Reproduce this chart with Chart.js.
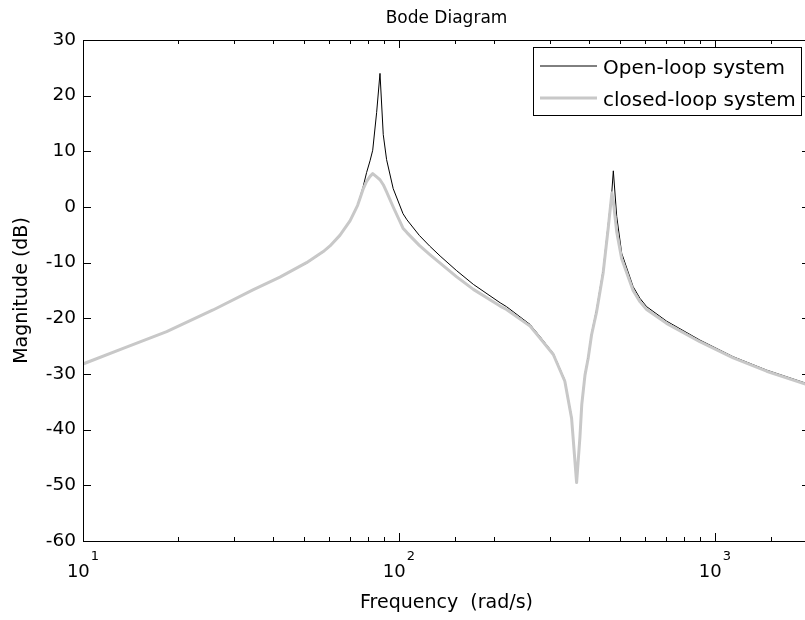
<!DOCTYPE html>
<html>
<head>
<meta charset="utf-8">
<script src="https://cdn.jsdelivr.net/npm/chart.js@4.4.0/dist/chart.umd.min.js"></script>
<style>
  html, body { margin: 0; padding: 0; background: #fff; overflow: hidden; }
  #wrap { width: 812px; height: 620px; }
</style>
</head>
<body>
<div id="wrap"><canvas id="bode"></canvas></div>
<script>
// frequency points (rad/s) and magnitudes (dB)
const freq = [10, 13.4, 18.4, 25.8, 34.5, 42, 51, 57.6, 60.5, 65,
  70, 74, 77, 79, 81, 82.6, 85, 87.1, 89.2, 91.4,
  95.9, 103, 106, 116, 125, 135, 152, 172, 209, 219,
  260, 279, 308, 335, 352, 365, 374, 379, 388, 397,
  407, 422, 443, 460, 472, 477, 489, 507, 551, 579,
  608, 703, 896, 1143, 1458, 2000];

const openLoop = [-28.2, -25.4, -22.4, -18.5, -14.9, -12.6, -10.1, -8.1, -7.1, -5.2,
  -2.5, 0.4, 3.6, 6.2, 8.3, 10.2, 17.0, 24.0, 13.0, 8.5,
  3.3, -1.2, -2.3, -5.1, -7.0, -8.8, -11.4, -13.9, -17.2, -17.9,
  -21.1, -23.2, -26.3, -31.1, -37.7, -49.3, -41.0, -35.2, -29.9, -26.9,
  -22.7, -18.5, -11.3, -2.9, 2.8, 6.5, -1.7, -8.3, -14.3, -16.4,
  -17.9, -20.5, -23.9, -26.9, -29.3, -31.9];

const closedLoop = [-28.2, -25.4, -22.4, -18.5, -14.9, -12.6, -10.0, -8.0, -7.0, -5.1,
  -2.5, 0.3, 3.2, 4.6, 5.5, 6.0, 5.4, 4.9, 4.0, 2.7,
  0.0, -3.8, -4.6, -6.9, -8.5, -10.1, -12.5, -14.8, -17.8, -18.4,
  -21.4, -23.5, -26.5, -31.3, -38.0, -49.5, -41.3, -35.5, -30.2, -27.2,
  -23.0, -18.9, -11.8, -3.6, 2.5, 1.0, -4.5, -9.3, -15.0, -17.0,
  -18.4, -20.9, -24.2, -27.1, -29.5, -32.1];

const seriesNames = ["Open-loop system", "closed-loop system"];
const xDecades = [10, 100, 1000];
const xExponents = ["1", "2", "3"];

const FONT = '"DejaVu Sans", sans-serif';

// matlab style box, inward ticks, 10^n labels and legend
const matlabAxes = {
  id: "matlabAxes",
  afterDatasetsDraw(chart) {
    const { ctx, chartArea: a, scales } = chart;
    const x = scales.x, y = scales.y;
    ctx.save();
    ctx.strokeStyle = "#000";
    ctx.lineWidth = 1;
    ctx.beginPath();
    y.ticks.forEach((t) => {
      const py = Math.round(y.getPixelForValue(t.value)) + 0.5;
      ctx.moveTo(a.left, py); ctx.lineTo(a.left + 8, py);
      ctx.moveTo(a.right, py); ctx.lineTo(a.right - 8, py);
    });
    x.ticks.forEach((t) => {
      const len = xDecades.includes(t.value) ? 8 : 4;
      const px = Math.round(x.getPixelForValue(t.value)) + 0.5;
      ctx.moveTo(px, a.bottom); ctx.lineTo(px, a.bottom - len);
      ctx.moveTo(px, a.top); ctx.lineTo(px, a.top + len);
    });
    ctx.stroke();
    ctx.strokeRect(Math.round(a.left) + 0.5, Math.round(a.top) + 0.5,
      Math.round(a.right - a.left), Math.round(a.bottom - a.top));

    // x tick labels with superscript
    ctx.fillStyle = "#000";
    ctx.textBaseline = "alphabetic";
    ctx.textAlign = "left";
    xDecades.forEach((v, i) => {
      const px = x.getPixelForValue(v);
      ctx.font = "18px " + FONT;
      const wb = ctx.measureText("10").width;
      ctx.font = "13px " + FONT;
      const ws = ctx.measureText(xExponents[i]).width;
      const left = px - (wb + 1 + ws) / 2;
      ctx.font = "18px " + FONT;
      ctx.fillText("10", left, a.bottom + 36);
      ctx.font = "13px " + FONT;
      ctx.fillText(xExponents[i], left + wb + 1, a.bottom + 19);
    });

    // legend box
    const lr = a.right - 9, lt = a.top + 7, lw = 268, lh = 68;
    const ll = lr - lw;
    ctx.fillStyle = "#fff";
    ctx.fillRect(ll, lt, lw, lh);
    ctx.strokeStyle = "#000";
    ctx.strokeRect(Math.round(ll) + 0.5, Math.round(lt) + 0.5, lw, lh);
    ctx.font = "20px " + FONT;
    chart.data.datasets.forEach((ds, i) => {
      const ry = lt + 19 + i * 32;
      ctx.strokeStyle = ds.borderColor;
      ctx.lineWidth = ds.borderWidth;
      ctx.beginPath();
      ctx.moveTo(ll + 7, ry); ctx.lineTo(ll + 64, ry);
      ctx.stroke();
      ctx.fillStyle = "#000";
      ctx.fillText(seriesNames[i], ll + 70, ry + 8);
    });
    ctx.restore();
  }
};

new Chart(document.getElementById("bode"), {
  type: "line",
  data: {
    datasets: [
      {
        label: seriesNames[0],
        data: freq.map((f, i) => ({ x: f, y: openLoop[i] })),
        borderColor: "#000000",
        borderWidth: 1,
        order: 1
      },
      {
        label: seriesNames[1],
        data: freq.map((f, i) => ({ x: f, y: closedLoop[i] })),
        borderColor: "#c8c8c8",
        borderWidth: 3,
        order: 0
      }
    ]
  },
  options: {
    responsive: true,
    maintainAspectRatio: false,
    animation: false,
    layout: { padding: { left: 0, right: 2, top: 0, bottom: 0 } },
    elements: {
      point: { radius: 0 },
      line: { tension: 0, borderJoinStyle: "round" }
    },
    plugins: {
      legend: { display: false },
      tooltip: { enabled: false },
      title: {
        display: true,
        text: "Bode Diagram",
        fullSize: false,
        color: "#000",
        font: { family: FONT, size: 17, weight: "normal" },
        padding: { top: 8, bottom: 11.6 }
      }
    },
    scales: {
      x: {
        type: "logarithmic",
        min: 10,
        max: 2000,
        grid: { display: false, drawTicks: false },
        border: { display: false },
        ticks: { display: false, autoSkip: false },
        title: {
          display: true,
          text: "Frequency  (rad/s)",
          color: "#000",
          font: { family: FONT, size: 19 },
          padding: { top: 0, bottom: 6 }
        },
        afterFit: (s) => { s.height = 79; }
      },
      y: {
        min: -60,
        max: 30,
        ticks: { stepSize: 10, color: "#000", font: { family: FONT, size: 18.5 }, padding: 7 },
        grid: { display: false, drawTicks: false },
        border: { display: false },
        title: {
          display: true,
          text: "Magnitude (dB)",
          color: "#000",
          font: { family: FONT, size: 19 },
          padding: { top: 11, bottom: 0 }
        },
        afterFit: (s) => { s.width = 83; }
      }
    }
  },
  plugins: [matlabAxes]
});
</script>
</body>
</html>
